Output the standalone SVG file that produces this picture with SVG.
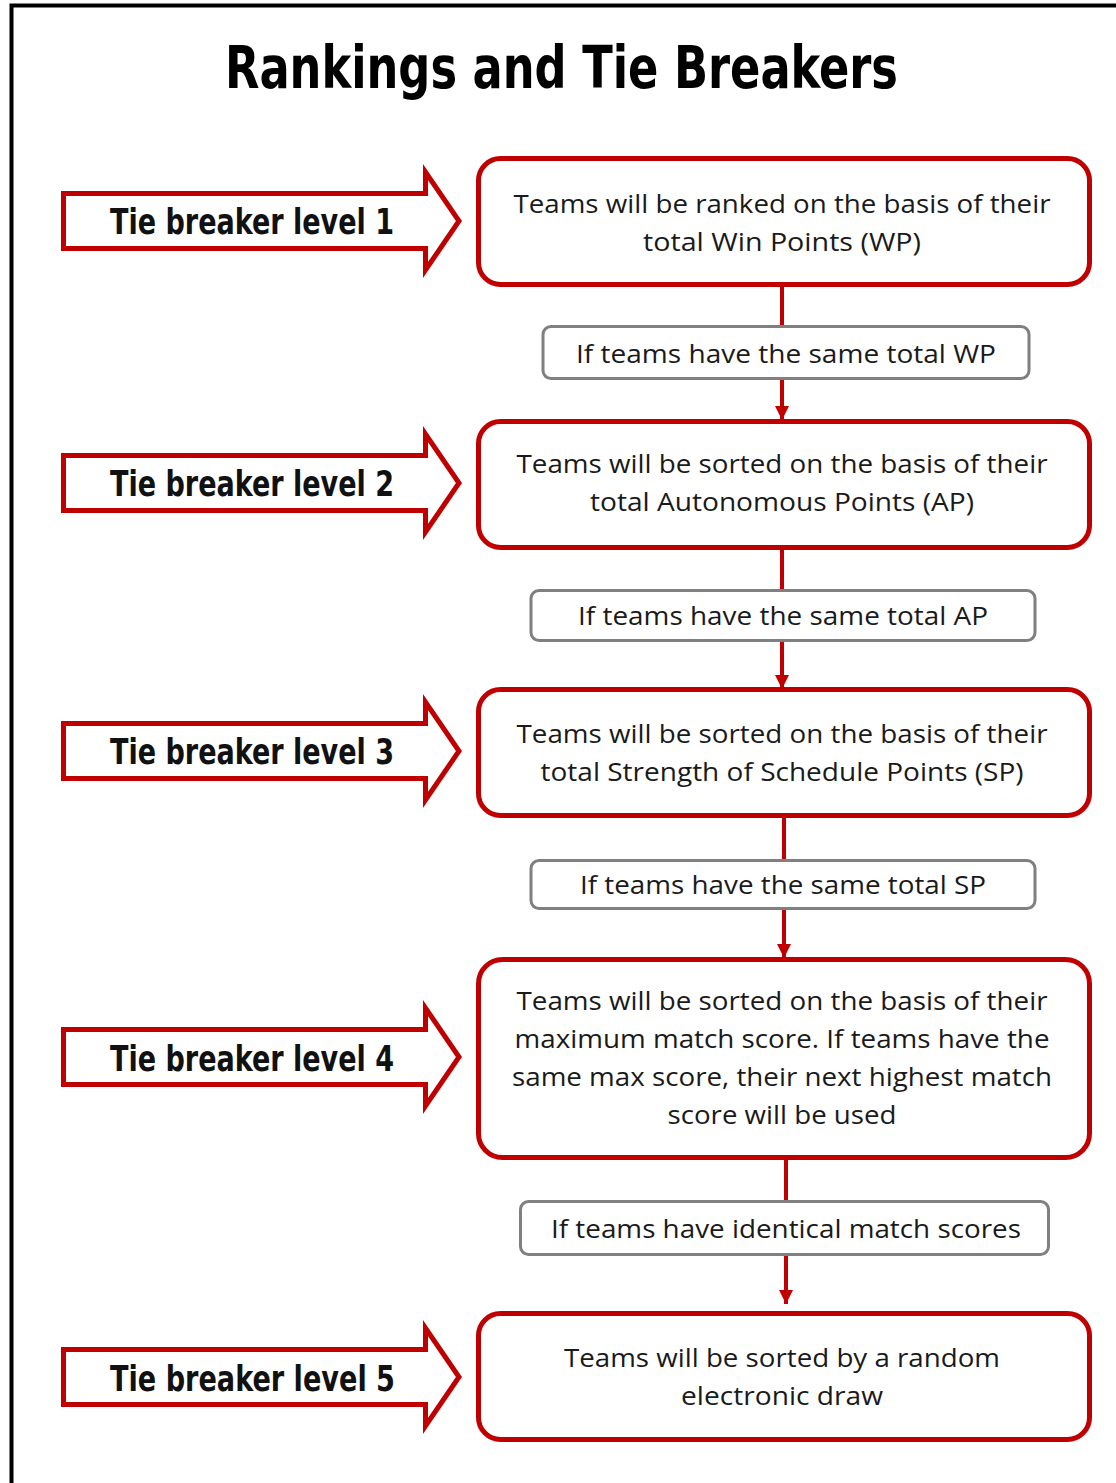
<svg xmlns="http://www.w3.org/2000/svg" width="1116" height="1483" viewBox="0 0 1116 1483">
<style>
.frame{fill:none;stroke:#000;stroke-width:4}
.title{font-family:"DejaVu Sans Condensed","DejaVu Sans",sans-serif;font-weight:bold;font-size:58px;fill:#000}
.lvl{fill:#fff;stroke:#C00000;stroke-width:5;stroke-miterlimit:10}
.lvlt{font-family:"DejaVu Sans Condensed","DejaVu Sans",sans-serif;font-weight:bold;font-size:36px;fill:#111}
.box{fill:#fff;stroke:#C00000;stroke-width:5}
.cond{fill:#fff;stroke:#808080;stroke-width:3}
.bt{font-family:"Open Sans","Liberation Sans",sans-serif;font-size:26px;fill:#1a1a1a;text-anchor:middle}
.con{stroke:#C00000;stroke-width:4;fill:none}
</style>
<defs>
<marker id="ah" viewBox="0 0 10 10" refX="10" refY="5" markerWidth="3.6" markerHeight="3.6" orient="auto" markerUnits="strokeWidth">
<path d="M0,0 L10,5 L0,10 Z" fill="#C00000"/>
</marker>
</defs>
<rect class="frame" x="11.5" y="5.5" width="1200" height="1600"/>
<text class="title" x="225" y="88" textLength="673" lengthAdjust="spacingAndGlyphs">Rankings and Tie Breakers</text>

<g id="connectors">
<line class="con" x1="782" y1="286" x2="782" y2="326"/>
<line class="con" x1="782" y1="379" x2="782" y2="420" marker-end="url(#ah)"/>
<line class="con" x1="782" y1="549" x2="782" y2="590"/>
<line class="con" x1="782" y1="640" x2="782" y2="689" marker-end="url(#ah)"/>
<line class="con" x1="784" y1="817" x2="784" y2="860"/>
<line class="con" x1="784" y1="908" x2="784" y2="958" marker-end="url(#ah)"/>
<line class="con" x1="786" y1="1159" x2="786" y2="1201"/>
<line class="con" x1="786" y1="1255" x2="786" y2="1304" marker-end="url(#ah)"/>
</g>

<g id="level1">
<path class="lvl" d="M63.5,193.5 H425.5 V172 L459,221 L425.5,270 V248.5 H63.5 Z"/>
<text class="lvlt" x="110" y="234" textLength="284" lengthAdjust="spacingAndGlyphs">Tie breaker level 1</text>
</g>
<g id="level2">
<path class="lvl" d="M63.5,455.5 H425.5 V434 L459,483 L425.5,532 V510.5 H63.5 Z"/>
<text class="lvlt" x="110" y="496" textLength="284" lengthAdjust="spacingAndGlyphs">Tie breaker level 2</text>
</g>
<g id="level3">
<path class="lvl" d="M63.5,723.5 H425.5 V702 L459,751 L425.5,800 V778.5 H63.5 Z"/>
<text class="lvlt" x="110" y="764" textLength="284" lengthAdjust="spacingAndGlyphs">Tie breaker level 3</text>
</g>
<g id="level4">
<path class="lvl" d="M63.5,1029.5 H425.5 V1008 L459,1057 L425.5,1106 V1084.5 H63.5 Z"/>
<text class="lvlt" x="110" y="1071" textLength="284" lengthAdjust="spacingAndGlyphs">Tie breaker level 4</text>
</g>
<g id="level5">
<path class="lvl" d="M63.5,1349.5 H425.5 V1328 L459,1377 L425.5,1426 V1404.5 H63.5 Z"/>
<text class="lvlt" x="110" y="1391" textLength="285" lengthAdjust="spacingAndGlyphs">Tie breaker level 5</text>
</g>

<g id="box1">
<rect class="box" x="478.5" y="158.5" width="611" height="126" rx="22"/>
<text class="bt" x="782" y="213" textLength="537" lengthAdjust="spacingAndGlyphs">Teams will be ranked on the basis of their</text>
<text class="bt" x="782" y="251" textLength="278" lengthAdjust="spacingAndGlyphs">total Win Points (WP)</text>
</g>
<g id="cond1">
<rect class="cond" x="543" y="326.5" width="486" height="52" rx="8"/>
<text class="bt" x="786" y="363" textLength="420" lengthAdjust="spacingAndGlyphs">If teams have the same total WP</text>
</g>
<g id="box2">
<rect class="box" x="478.5" y="421.5" width="611" height="126" rx="22"/>
<text class="bt" x="782" y="473" textLength="531" lengthAdjust="spacingAndGlyphs">Teams will be sorted on the basis of their</text>
<text class="bt" x="782" y="511" textLength="384" lengthAdjust="spacingAndGlyphs">total Autonomous Points (AP)</text>
</g>
<g id="cond2">
<rect class="cond" x="531" y="590.5" width="504" height="50" rx="8"/>
<text class="bt" x="783" y="625" textLength="410" lengthAdjust="spacingAndGlyphs">If teams have the same total AP</text>
</g>
<g id="box3">
<rect class="box" x="478.5" y="689.5" width="611" height="126" rx="22"/>
<text class="bt" x="782" y="743" textLength="531" lengthAdjust="spacingAndGlyphs">Teams will be sorted on the basis of their</text>
<text class="bt" x="782" y="781" textLength="483" lengthAdjust="spacingAndGlyphs">total Strength of Schedule Points (SP)</text>
</g>
<g id="cond3">
<rect class="cond" x="531" y="860.5" width="504" height="48" rx="8"/>
<text class="bt" x="783" y="894" textLength="406" lengthAdjust="spacingAndGlyphs">If teams have the same total SP</text>
</g>
<g id="box4">
<rect class="box" x="478.5" y="959.5" width="611" height="198" rx="24"/>
<text class="bt" x="782" y="1010" textLength="531" lengthAdjust="spacingAndGlyphs">Teams will be sorted on the basis of their</text>
<text class="bt" x="782" y="1048" textLength="535" lengthAdjust="spacingAndGlyphs">maximum match score. If teams have the</text>
<text class="bt" x="782" y="1086" textLength="540" lengthAdjust="spacingAndGlyphs">same max score, their next highest match</text>
<text class="bt" x="782" y="1124" textLength="229" lengthAdjust="spacingAndGlyphs">score will be used</text>
</g>
<g id="cond4">
<rect class="cond" x="520.5" y="1201.5" width="528" height="53" rx="8"/>
<text class="bt" x="786" y="1238" textLength="470" lengthAdjust="spacingAndGlyphs">If teams have identical match scores</text>
</g>
<g id="box5">
<rect class="box" x="478.5" y="1313.5" width="611" height="126" rx="22"/>
<text class="bt" x="782" y="1367" textLength="436" lengthAdjust="spacingAndGlyphs">Teams will be sorted by a random</text>
<text class="bt" x="782" y="1405" textLength="202" lengthAdjust="spacingAndGlyphs">electronic draw</text>
</g>
</svg>
